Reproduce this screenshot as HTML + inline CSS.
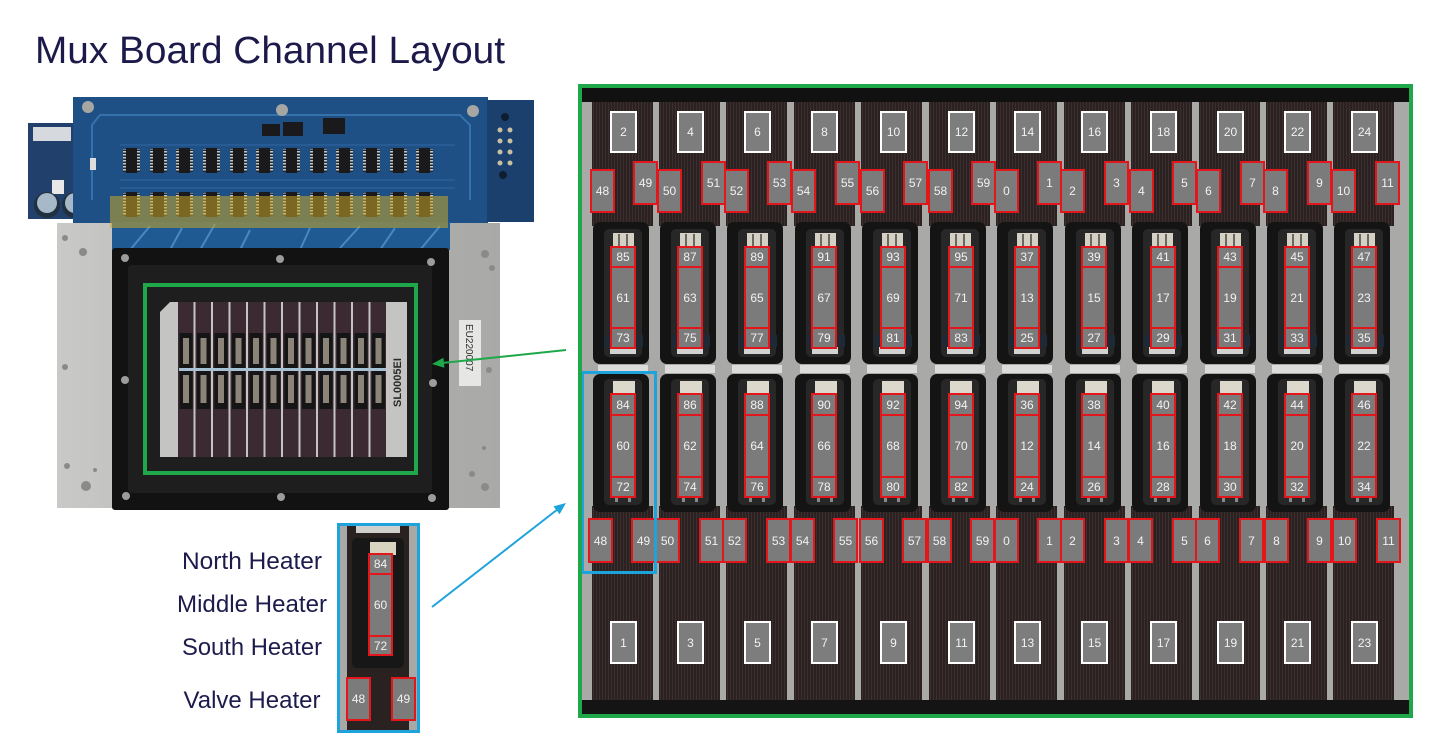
<!DOCTYPE html>
<html><head><meta charset="utf-8"><style>
html,body{margin:0;padding:0;background:#fff;}
svg{display:block;}
.n{font-family:"Liberation Sans",sans-serif;font-size:12px;fill:#f2f2f2;text-anchor:middle;}
.lb{font-family:"Liberation Sans",sans-serif;font-size:24px;fill:#1c1b4b;text-anchor:middle;}
.rb{fill:#7b7b7b;stroke:#e3161b;stroke-width:2;}
.wb{fill:#7d7d7d;stroke:#ffffff;stroke-width:2;}
</style></head><body>
<svg width="1429" height="738" viewBox="0 0 1429 738" xmlns="http://www.w3.org/2000/svg">
<defs>
  <pattern id="lanep" width="3" height="10" patternUnits="userSpaceOnUse">
    <rect width="3" height="10" fill="#2b2121"/><rect width="1" height="10" fill="#3b2f2f"/>
  </pattern>
  <pattern id="pins" width="3" height="3" patternUnits="userSpaceOnUse">
    <rect width="3" height="3" fill="#1e2a38"/><rect width="3" height="1.5" fill="#c8c8c0"/>
  </pattern>
  <linearGradient id="plate" x1="0" y1="0" x2="1" y2="0">
    <stop offset="0" stop-color="#c9c9c7"/><stop offset="0.5" stop-color="#b3b3b1"/><stop offset="1" stop-color="#a9a9a7"/>
  </linearGradient>
  <g id="ic">
    <rect x="3" y="0" width="11" height="25" fill="#1a1a1c"/>
    <rect x="0" y="1" width="3" height="23" fill="url(#pins)"/>
    <rect x="14" y="1" width="3" height="23" fill="url(#pins)"/>
  </g>
  <g id="colbg">
    <rect x="-19" y="102" width="61" height="124" fill="url(#lanep)"/>
    <rect x="-19" y="506" width="61" height="194" fill="url(#lanep)"/>
    <rect x="-18" y="222" width="56" height="142" rx="7" fill="#141414"/>
    <rect x="-7" y="229" width="38" height="128" rx="5" fill="#272727"/>
    <rect x="2" y="233" width="21" height="15" fill="#d4d0c4"/>
    <rect x="7" y="234" width="2" height="13" fill="#6a6660"/>
    <rect x="15" y="234" width="2" height="13" fill="#6a6660"/>
    <rect x="-1" y="346" width="26" height="8" fill="#d2d2d0"/>
    <rect x="-6" y="335" width="38" height="12" fill="#1d2a36"/>
    <rect x="-13" y="365" width="50" height="8" fill="#dcdcda"/>
    <rect x="-18" y="374" width="56" height="138" rx="7" fill="#141414"/>
    <rect x="-7" y="379" width="38" height="126" rx="5" fill="#272727"/>
    <rect x="2" y="381" width="22" height="14" fill="#dcd8cc"/>
    <rect x="4" y="498" width="3" height="4" fill="#888"/>
    <rect x="17" y="498" width="3" height="4" fill="#888"/>
  </g>
</defs>

<rect width="1429" height="738" fill="#ffffff"/>

<!-- Title -->
<text x="35" y="63" font-family="Liberation Sans, sans-serif" font-size="38" fill="#1b1a4a" textLength="470" lengthAdjust="spacingAndGlyphs">Mux Board Channel Layout</text>

<!-- ===== LEFT PHOTO ===== -->
<!-- small left board -->
<rect x="28" y="123" width="60" height="96" fill="#21406c"/>
<rect x="33" y="127" width="38" height="14" fill="#d6dade"/>
<rect x="52" y="180" width="12" height="14" fill="#e8e8e8"/>
<circle cx="47" cy="205" r="13" fill="#20303e"/>
<circle cx="47" cy="203" r="10" fill="#a7b8c8"/>
<circle cx="75" cy="205" r="13" fill="#20303e"/>
<circle cx="75" cy="203" r="10" fill="#a7b8c8"/>

<!-- silver plate -->
<rect x="57" y="223" width="443" height="285" fill="url(#plate)"/>
<!-- main pcb -->
<rect x="73" y="97" width="415" height="126" fill="#1e5086"/>
<rect x="487" y="100" width="47" height="122" fill="#1b406e"/>
<path d="M100 115 L460 115 L470 125 L470 200 M100 115 L92 125 L92 200" fill="none" stroke="#3572ac" stroke-width="2"/>
<path d="M120 145 L455 145 M120 180 L455 180 M120 188 L455 188" stroke="#2e66a0" stroke-width="1" fill="none"/>
<circle cx="88" cy="107" r="6" fill="#a6a6a2"/>
<circle cx="282" cy="110" r="6" fill="#a6a6a2"/>
<circle cx="473" cy="111" r="6" fill="#a6a6a2"/>
<circle cx="505" cy="117" r="4" fill="#0e1e30"/>
<circle cx="503" cy="175" r="4" fill="#0e1e30"/>
<circle cx="500" cy="130" r="2.5" fill="#c8c0a0"/><circle cx="510" cy="130" r="2.5" fill="#c8c0a0"/>
<circle cx="500" cy="141" r="2.5" fill="#c8c0a0"/><circle cx="510" cy="141" r="2.5" fill="#c8c0a0"/>
<circle cx="500" cy="152" r="2.5" fill="#c8c0a0"/><circle cx="510" cy="152" r="2.5" fill="#c8c0a0"/>
<circle cx="500" cy="163" r="2.5" fill="#c8c0a0"/><circle cx="510" cy="163" r="2.5" fill="#c8c0a0"/>
<rect x="90" y="158" width="6" height="12" fill="#ddd"/>
<rect x="262" y="124" width="18" height="12" fill="#1a1a1c"/>
<rect x="283" y="122" width="20" height="14" fill="#1a1a1c"/>
<rect x="323" y="118" width="22" height="16" fill="#1a1a1c"/>
<!-- ICs row 1 -->
<use href="#ic" x="123" y="148"/><use href="#ic" x="150" y="148"/><use href="#ic" x="176" y="148"/>
<use href="#ic" x="203" y="148"/><use href="#ic" x="230" y="148"/><use href="#ic" x="256" y="148"/>
<use href="#ic" x="283" y="148"/><use href="#ic" x="310" y="148"/><use href="#ic" x="336" y="148"/>
<use href="#ic" x="363" y="148"/><use href="#ic" x="390" y="148"/><use href="#ic" x="416" y="148"/>
<!-- ICs row 2 -->
<use href="#ic" x="123" y="192"/><use href="#ic" x="150" y="192"/><use href="#ic" x="176" y="192"/>
<use href="#ic" x="203" y="192"/><use href="#ic" x="230" y="192"/><use href="#ic" x="256" y="192"/>
<use href="#ic" x="283" y="192"/><use href="#ic" x="310" y="192"/><use href="#ic" x="336" y="192"/>
<use href="#ic" x="363" y="192"/><use href="#ic" x="390" y="192"/><use href="#ic" x="416" y="192"/>
<!-- lower pcb extension -->
<rect x="112" y="222" width="338" height="28" fill="#1f5a92"/>
<path d="M130 250 L150 226 M170 250 L182 228 M200 250 L215 224 M240 250 L250 230 M300 250 L310 228 M340 248 L360 226 M380 250 L395 228 M420 250 L440 226" stroke="#4a88c0" stroke-width="2" fill="none"/>
<!-- gold tape -->
<rect x="110" y="196" width="338" height="32" fill="#c8a828" opacity="0.55"/>

<!-- black frame -->
<rect x="112" y="248" width="337" height="262" rx="3" fill="#121212"/>
<rect x="128" y="265" width="304" height="228" rx="4" fill="#1e1e1e"/>
<!-- screws -->
<g fill="#9c9c9a">
<circle cx="125" cy="258" r="4"/><circle cx="280" cy="259" r="4"/><circle cx="431" cy="262" r="4"/>
<circle cx="125" cy="380" r="4"/><circle cx="433" cy="383" r="4"/>
<circle cx="126" cy="496" r="4"/><circle cx="281" cy="497" r="4"/><circle cx="432" cy="498" r="4"/>
</g>
<g fill="#8a8a88">
<circle cx="65" cy="238" r="3"/><circle cx="83" cy="252" r="4"/><circle cx="65" cy="367" r="3"/>
<circle cx="67" cy="466" r="3"/><circle cx="86" cy="486" r="5"/><circle cx="95" cy="470" r="2"/>
<circle cx="485" cy="254" r="4"/><circle cx="492" cy="268" r="3"/><circle cx="489" cy="370" r="3"/>
<circle cx="484" cy="448" r="2"/><circle cx="472" cy="474" r="3"/><circle cx="485" cy="487" r="4"/>
</g>
<!-- EU label -->
<rect x="459" y="320" width="22" height="66" fill="#e6e6e4"/>
<text x="0" y="0" transform="translate(466,324) rotate(90)" font-family="Liberation Sans, sans-serif" font-size="10" fill="#333">EU220007</text>

<!-- chip area -->
<path d="M170 302 L407 302 L407 457 L160 457 L160 312 Z" fill="#c4c4c2"/>
<g fill="#3b2a31">
<rect x="178" y="302" width="15.5" height="155"/><rect x="195.5" y="302" width="15.5" height="155"/>
<rect x="213" y="302" width="15.5" height="155"/><rect x="230.5" y="302" width="15.5" height="155"/>
<rect x="248" y="302" width="15.5" height="155"/><rect x="265.5" y="302" width="15.5" height="155"/>
<rect x="283" y="302" width="15.5" height="155"/><rect x="300.5" y="302" width="15.5" height="155"/>
<rect x="318" y="302" width="15.5" height="155"/><rect x="335.5" y="302" width="15.5" height="155"/>
<rect x="353" y="302" width="15.5" height="155"/><rect x="370.5" y="302" width="15.5" height="155"/>
</g>
<g fill="#151515">
<rect x="179.5" y="333" width="13" height="76"/><rect x="197" y="333" width="13" height="76"/>
<rect x="214.5" y="333" width="13" height="76"/><rect x="232" y="333" width="13" height="76"/>
<rect x="249.5" y="333" width="13" height="76"/><rect x="267" y="333" width="13" height="76"/>
<rect x="284.5" y="333" width="13" height="76"/><rect x="302" y="333" width="13" height="76"/>
<rect x="319.5" y="333" width="13" height="76"/><rect x="337" y="333" width="13" height="76"/>
<rect x="354.5" y="333" width="13" height="76"/><rect x="372" y="333" width="13" height="76"/>
</g>
<g fill="#8c8478">
<rect x="183" y="338" width="6" height="26"/><rect x="200.5" y="338" width="6" height="26"/>
<rect x="218" y="338" width="6" height="26"/><rect x="235.5" y="338" width="6" height="26"/>
<rect x="253" y="338" width="6" height="26"/><rect x="270.5" y="338" width="6" height="26"/>
<rect x="288" y="338" width="6" height="26"/><rect x="305.5" y="338" width="6" height="26"/>
<rect x="323" y="338" width="6" height="26"/><rect x="340.5" y="338" width="6" height="26"/>
<rect x="358" y="338" width="6" height="26"/><rect x="375.5" y="338" width="6" height="26"/>
<rect x="183" y="375" width="6" height="28"/><rect x="200.5" y="375" width="6" height="28"/>
<rect x="218" y="375" width="6" height="28"/><rect x="235.5" y="375" width="6" height="28"/>
<rect x="253" y="375" width="6" height="28"/><rect x="270.5" y="375" width="6" height="28"/>
<rect x="288" y="375" width="6" height="28"/><rect x="305.5" y="375" width="6" height="28"/>
<rect x="323" y="375" width="6" height="28"/><rect x="340.5" y="375" width="6" height="28"/>
<rect x="358" y="375" width="6" height="28"/><rect x="375.5" y="375" width="6" height="28"/>
</g>
<rect x="179" y="368" width="207" height="3" fill="#a8c0d4"/>
<text x="0" y="0" transform="translate(401,407) rotate(-90)" font-family="Liberation Sans, sans-serif" font-size="11" font-weight="bold" fill="#2a2a2a">SL0005EI</text>
<!-- left green box -->
<rect x="145" y="285" width="271" height="188" fill="none" stroke="#1fa84a" stroke-width="4"/>

<!-- arrows -->
<line x1="566" y1="350" x2="442" y2="363" stroke="#1fa84a" stroke-width="2"/>
<polygon points="432,364 444.4,367.7 443.4,357.8" fill="#1fa84a"/>
<line x1="432" y1="607" x2="558" y2="509" stroke="#1ea3dc" stroke-width="2"/>
<polygon points="566,503 559.6,514.3 553.5,506.4" fill="#1ea3dc"/>

<!-- ===== INSET ===== -->
<rect x="338" y="524" width="81" height="208" fill="#a8a8a6"/>
<rect x="347" y="524" width="62" height="208" fill="#2a2121"/>
<rect x="356" y="526" width="44" height="7" fill="#cfcfcd"/>
<rect x="352" y="538" width="52" height="130" rx="5" fill="#171717"/>
<rect x="370" y="542" width="26" height="13" fill="#d8d4c0"/>
<rect x="369" y="554" width="23" height="20" class="rb"/>
<rect x="369" y="574" width="23" height="62" class="rb"/>
<rect x="369" y="636" width="23" height="19" class="rb"/>
<text x="380.5" y="568" class="n">84</text>
<text x="380.5" y="609" class="n">60</text>
<text x="380.5" y="650" class="n">72</text>
<rect x="347" y="678" width="23" height="42" class="rb"/>
<rect x="392" y="678" width="23" height="42" class="rb"/>
<text x="358.5" y="703" class="n">48</text>
<text x="403.5" y="703" class="n">49</text>
<rect x="338.5" y="524.5" width="80" height="207" fill="none" stroke="#1ea3dc" stroke-width="3"/>

<text x="252" y="569" class="lb" textLength="140" lengthAdjust="spacingAndGlyphs">North Heater</text>
<text x="252" y="612" class="lb" textLength="150" lengthAdjust="spacingAndGlyphs">Middle Heater</text>
<text x="252" y="655" class="lb" textLength="140" lengthAdjust="spacingAndGlyphs">South Heater</text>
<text x="252" y="708" class="lb" textLength="137" lengthAdjust="spacingAndGlyphs">Valve Heater</text>

<!-- ===== RIGHT PANEL ===== -->
<rect x="582" y="88" width="827" height="626" fill="#a9a9a7"/>
<rect x="582" y="88" width="827" height="14" fill="#111"/>
<rect x="582" y="700" width="827" height="14" fill="#141414"/>

<use href="#colbg" x="611"/><use href="#colbg" x="678"/><use href="#colbg" x="745"/>
<use href="#colbg" x="813"/><use href="#colbg" x="880"/><use href="#colbg" x="948"/>
<use href="#colbg" x="1015"/><use href="#colbg" x="1083"/><use href="#colbg" x="1150"/>
<use href="#colbg" x="1218"/><use href="#colbg" x="1285"/><use href="#colbg" x="1352"/>

<!-- column 0 -->
<g transform="translate(611,0)">
<rect x="0" y="112" width="25" height="40" class="wb"/><text x="12.5" y="136" class="n">2</text>
<rect x="-20" y="170" width="23" height="42" class="rb"/><text x="-8.5" y="195" class="n">48</text>
<rect x="23" y="162" width="23" height="42" class="rb"/><text x="34.5" y="187" class="n">49</text>
<rect x="0" y="247" width="24" height="20" class="rb"/><text x="12" y="261" class="n">85</text>
<rect x="0" y="267" width="24" height="61" class="rb"/><text x="12" y="302" class="n">61</text>
<rect x="0" y="328" width="24" height="20" class="rb"/><text x="12" y="342" class="n">73</text>
<rect x="0" y="394" width="24" height="21" class="rb"/><text x="12" y="409" class="n">84</text>
<rect x="0" y="415" width="24" height="62" class="rb"/><text x="12" y="450" class="n">60</text>
<rect x="0" y="477" width="24" height="20" class="rb"/><text x="12" y="491" class="n">72</text>
<rect x="-22" y="519" width="23" height="43" class="rb"/><text x="-10.5" y="545" class="n">48</text>
<rect x="21" y="519" width="23" height="43" class="rb"/><text x="32.5" y="545" class="n">49</text>
<rect x="0" y="622" width="25" height="41" class="wb"/><text x="12.5" y="647" class="n">1</text>
</g>
<!-- column 1 -->
<g transform="translate(678,0)">
<rect x="0" y="112" width="25" height="40" class="wb"/><text x="12.5" y="136" class="n">4</text>
<rect x="-20" y="170" width="23" height="42" class="rb"/><text x="-8.5" y="195" class="n">50</text>
<rect x="24" y="162" width="23" height="42" class="rb"/><text x="35.5" y="187" class="n">51</text>
<rect x="0" y="247" width="24" height="20" class="rb"/><text x="12" y="261" class="n">87</text>
<rect x="0" y="267" width="24" height="61" class="rb"/><text x="12" y="302" class="n">63</text>
<rect x="0" y="328" width="24" height="20" class="rb"/><text x="12" y="342" class="n">75</text>
<rect x="0" y="394" width="24" height="21" class="rb"/><text x="12" y="409" class="n">86</text>
<rect x="0" y="415" width="24" height="62" class="rb"/><text x="12" y="450" class="n">62</text>
<rect x="0" y="477" width="24" height="20" class="rb"/><text x="12" y="491" class="n">74</text>
<rect x="-22" y="519" width="23" height="43" class="rb"/><text x="-10.5" y="545" class="n">50</text>
<rect x="22" y="519" width="23" height="43" class="rb"/><text x="33.5" y="545" class="n">51</text>
<rect x="0" y="622" width="25" height="41" class="wb"/><text x="12.5" y="647" class="n">3</text>
</g>
<!-- column 2 -->
<g transform="translate(745,0)">
<rect x="0" y="112" width="25" height="40" class="wb"/><text x="12.5" y="136" class="n">6</text>
<rect x="-20" y="170" width="23" height="42" class="rb"/><text x="-8.5" y="195" class="n">52</text>
<rect x="23" y="162" width="23" height="42" class="rb"/><text x="34.5" y="187" class="n">53</text>
<rect x="0" y="247" width="24" height="20" class="rb"/><text x="12" y="261" class="n">89</text>
<rect x="0" y="267" width="24" height="61" class="rb"/><text x="12" y="302" class="n">65</text>
<rect x="0" y="328" width="24" height="20" class="rb"/><text x="12" y="342" class="n">77</text>
<rect x="0" y="394" width="24" height="21" class="rb"/><text x="12" y="409" class="n">88</text>
<rect x="0" y="415" width="24" height="62" class="rb"/><text x="12" y="450" class="n">64</text>
<rect x="0" y="477" width="24" height="20" class="rb"/><text x="12" y="491" class="n">76</text>
<rect x="-22" y="519" width="23" height="43" class="rb"/><text x="-10.5" y="545" class="n">52</text>
<rect x="22" y="519" width="23" height="43" class="rb"/><text x="33.5" y="545" class="n">53</text>
<rect x="0" y="622" width="25" height="41" class="wb"/><text x="12.5" y="647" class="n">5</text>
</g>
<!-- column 3 -->
<g transform="translate(812,0)">
<rect x="0" y="112" width="25" height="40" class="wb"/><text x="12.5" y="136" class="n">8</text>
<rect x="-20" y="170" width="23" height="42" class="rb"/><text x="-8.5" y="195" class="n">54</text>
<rect x="24" y="162" width="23" height="42" class="rb"/><text x="35.5" y="187" class="n">55</text>
<rect x="0" y="247" width="24" height="20" class="rb"/><text x="12" y="261" class="n">91</text>
<rect x="0" y="267" width="24" height="61" class="rb"/><text x="12" y="302" class="n">67</text>
<rect x="0" y="328" width="24" height="20" class="rb"/><text x="12" y="342" class="n">79</text>
<rect x="0" y="394" width="24" height="21" class="rb"/><text x="12" y="409" class="n">90</text>
<rect x="0" y="415" width="24" height="62" class="rb"/><text x="12" y="450" class="n">66</text>
<rect x="0" y="477" width="24" height="20" class="rb"/><text x="12" y="491" class="n">78</text>
<rect x="-21" y="519" width="23" height="43" class="rb"/><text x="-9.5" y="545" class="n">54</text>
<rect x="22" y="519" width="23" height="43" class="rb"/><text x="33.5" y="545" class="n">55</text>
<rect x="0" y="622" width="25" height="41" class="wb"/><text x="12.5" y="647" class="n">7</text>
</g>
<!-- column 4 -->
<g transform="translate(881,0)">
<rect x="0" y="112" width="25" height="40" class="wb"/><text x="12.5" y="136" class="n">10</text>
<rect x="-20" y="170" width="23" height="42" class="rb"/><text x="-8.5" y="195" class="n">56</text>
<rect x="23" y="162" width="23" height="42" class="rb"/><text x="34.5" y="187" class="n">57</text>
<rect x="0" y="247" width="24" height="20" class="rb"/><text x="12" y="261" class="n">93</text>
<rect x="0" y="267" width="24" height="61" class="rb"/><text x="12" y="302" class="n">69</text>
<rect x="0" y="328" width="24" height="20" class="rb"/><text x="12" y="342" class="n">81</text>
<rect x="0" y="394" width="24" height="21" class="rb"/><text x="12" y="409" class="n">92</text>
<rect x="0" y="415" width="24" height="62" class="rb"/><text x="12" y="450" class="n">68</text>
<rect x="0" y="477" width="24" height="20" class="rb"/><text x="12" y="491" class="n">80</text>
<rect x="-21" y="519" width="23" height="43" class="rb"/><text x="-9.5" y="545" class="n">56</text>
<rect x="22" y="519" width="23" height="43" class="rb"/><text x="33.5" y="545" class="n">57</text>
<rect x="0" y="622" width="25" height="41" class="wb"/><text x="12.5" y="647" class="n">9</text>
</g>
<!-- column 5 -->
<g transform="translate(949,0)">
<rect x="0" y="112" width="25" height="40" class="wb"/><text x="12.5" y="136" class="n">12</text>
<rect x="-20" y="170" width="23" height="42" class="rb"/><text x="-8.5" y="195" class="n">58</text>
<rect x="23" y="162" width="23" height="42" class="rb"/><text x="34.5" y="187" class="n">59</text>
<rect x="0" y="247" width="24" height="20" class="rb"/><text x="12" y="261" class="n">95</text>
<rect x="0" y="267" width="24" height="61" class="rb"/><text x="12" y="302" class="n">71</text>
<rect x="0" y="328" width="24" height="20" class="rb"/><text x="12" y="342" class="n">83</text>
<rect x="0" y="394" width="24" height="21" class="rb"/><text x="12" y="409" class="n">94</text>
<rect x="0" y="415" width="24" height="62" class="rb"/><text x="12" y="450" class="n">70</text>
<rect x="0" y="477" width="24" height="20" class="rb"/><text x="12" y="491" class="n">82</text>
<rect x="-21" y="519" width="23" height="43" class="rb"/><text x="-9.5" y="545" class="n">58</text>
<rect x="22" y="519" width="23" height="43" class="rb"/><text x="33.5" y="545" class="n">59</text>
<rect x="0" y="622" width="25" height="41" class="wb"/><text x="12.5" y="647" class="n">11</text>
</g>
<!-- column 6 -->
<g transform="translate(1015,0)">
<rect x="0" y="112" width="25" height="40" class="wb"/><text x="12.5" y="136" class="n">14</text>
<rect x="-20" y="170" width="23" height="42" class="rb"/><text x="-8.5" y="195" class="n">0</text>
<rect x="23" y="162" width="23" height="42" class="rb"/><text x="34.5" y="187" class="n">1</text>
<rect x="0" y="247" width="24" height="20" class="rb"/><text x="12" y="261" class="n">37</text>
<rect x="0" y="267" width="24" height="61" class="rb"/><text x="12" y="302" class="n">13</text>
<rect x="0" y="328" width="24" height="20" class="rb"/><text x="12" y="342" class="n">25</text>
<rect x="0" y="394" width="24" height="21" class="rb"/><text x="12" y="409" class="n">36</text>
<rect x="0" y="415" width="24" height="62" class="rb"/><text x="12" y="450" class="n">12</text>
<rect x="0" y="477" width="24" height="20" class="rb"/><text x="12" y="491" class="n">24</text>
<rect x="-20" y="519" width="23" height="43" class="rb"/><text x="-8.5" y="545" class="n">0</text>
<rect x="23" y="519" width="23" height="43" class="rb"/><text x="34.5" y="545" class="n">1</text>
<rect x="0" y="622" width="25" height="41" class="wb"/><text x="12.5" y="647" class="n">13</text>
</g>
<!-- column 7 -->
<g transform="translate(1082,0)">
<rect x="0" y="112" width="25" height="40" class="wb"/><text x="12.5" y="136" class="n">16</text>
<rect x="-21" y="170" width="23" height="42" class="rb"/><text x="-9.5" y="195" class="n">2</text>
<rect x="23" y="162" width="23" height="42" class="rb"/><text x="34.5" y="187" class="n">3</text>
<rect x="0" y="247" width="24" height="20" class="rb"/><text x="12" y="261" class="n">39</text>
<rect x="0" y="267" width="24" height="61" class="rb"/><text x="12" y="302" class="n">15</text>
<rect x="0" y="328" width="24" height="20" class="rb"/><text x="12" y="342" class="n">27</text>
<rect x="0" y="394" width="24" height="21" class="rb"/><text x="12" y="409" class="n">38</text>
<rect x="0" y="415" width="24" height="62" class="rb"/><text x="12" y="450" class="n">14</text>
<rect x="0" y="477" width="24" height="20" class="rb"/><text x="12" y="491" class="n">26</text>
<rect x="-21" y="519" width="23" height="43" class="rb"/><text x="-9.5" y="545" class="n">2</text>
<rect x="23" y="519" width="23" height="43" class="rb"/><text x="34.5" y="545" class="n">3</text>
<rect x="0" y="622" width="25" height="41" class="wb"/><text x="12.5" y="647" class="n">15</text>
</g>
<!-- column 8 -->
<g transform="translate(1151,0)">
<rect x="0" y="112" width="25" height="40" class="wb"/><text x="12.5" y="136" class="n">18</text>
<rect x="-21" y="170" width="23" height="42" class="rb"/><text x="-9.5" y="195" class="n">4</text>
<rect x="22" y="162" width="23" height="42" class="rb"/><text x="33.5" y="187" class="n">5</text>
<rect x="0" y="247" width="24" height="20" class="rb"/><text x="12" y="261" class="n">41</text>
<rect x="0" y="267" width="24" height="61" class="rb"/><text x="12" y="302" class="n">17</text>
<rect x="0" y="328" width="24" height="20" class="rb"/><text x="12" y="342" class="n">29</text>
<rect x="0" y="394" width="24" height="21" class="rb"/><text x="12" y="409" class="n">40</text>
<rect x="0" y="415" width="24" height="62" class="rb"/><text x="12" y="450" class="n">16</text>
<rect x="0" y="477" width="24" height="20" class="rb"/><text x="12" y="491" class="n">28</text>
<rect x="-22" y="519" width="23" height="43" class="rb"/><text x="-10.5" y="545" class="n">4</text>
<rect x="22" y="519" width="23" height="43" class="rb"/><text x="33.5" y="545" class="n">5</text>
<rect x="0" y="622" width="25" height="41" class="wb"/><text x="12.5" y="647" class="n">17</text>
</g>
<!-- column 9 -->
<g transform="translate(1218,0)">
<rect x="0" y="112" width="25" height="40" class="wb"/><text x="12.5" y="136" class="n">20</text>
<rect x="-21" y="170" width="23" height="42" class="rb"/><text x="-9.5" y="195" class="n">6</text>
<rect x="23" y="162" width="23" height="42" class="rb"/><text x="34.5" y="187" class="n">7</text>
<rect x="0" y="247" width="24" height="20" class="rb"/><text x="12" y="261" class="n">43</text>
<rect x="0" y="267" width="24" height="61" class="rb"/><text x="12" y="302" class="n">19</text>
<rect x="0" y="328" width="24" height="20" class="rb"/><text x="12" y="342" class="n">31</text>
<rect x="0" y="394" width="24" height="21" class="rb"/><text x="12" y="409" class="n">42</text>
<rect x="0" y="415" width="24" height="62" class="rb"/><text x="12" y="450" class="n">18</text>
<rect x="0" y="477" width="24" height="20" class="rb"/><text x="12" y="491" class="n">30</text>
<rect x="-22" y="519" width="23" height="43" class="rb"/><text x="-10.5" y="545" class="n">6</text>
<rect x="22" y="519" width="23" height="43" class="rb"/><text x="33.5" y="545" class="n">7</text>
<rect x="0" y="622" width="25" height="41" class="wb"/><text x="12.5" y="647" class="n">19</text>
</g>
<!-- column 10 -->
<g transform="translate(1285,0)">
<rect x="0" y="112" width="25" height="40" class="wb"/><text x="12.5" y="136" class="n">22</text>
<rect x="-21" y="170" width="23" height="42" class="rb"/><text x="-9.5" y="195" class="n">8</text>
<rect x="23" y="162" width="23" height="42" class="rb"/><text x="34.5" y="187" class="n">9</text>
<rect x="0" y="247" width="24" height="20" class="rb"/><text x="12" y="261" class="n">45</text>
<rect x="0" y="267" width="24" height="61" class="rb"/><text x="12" y="302" class="n">21</text>
<rect x="0" y="328" width="24" height="20" class="rb"/><text x="12" y="342" class="n">33</text>
<rect x="0" y="394" width="24" height="21" class="rb"/><text x="12" y="409" class="n">44</text>
<rect x="0" y="415" width="24" height="62" class="rb"/><text x="12" y="450" class="n">20</text>
<rect x="0" y="477" width="24" height="20" class="rb"/><text x="12" y="491" class="n">32</text>
<rect x="-20" y="519" width="23" height="43" class="rb"/><text x="-8.5" y="545" class="n">8</text>
<rect x="23" y="519" width="23" height="43" class="rb"/><text x="34.5" y="545" class="n">9</text>
<rect x="0" y="622" width="25" height="41" class="wb"/><text x="12.5" y="647" class="n">21</text>
</g>
<!-- column 11 -->
<g transform="translate(1352,0)">
<rect x="0" y="112" width="25" height="40" class="wb"/><text x="12.5" y="136" class="n">24</text>
<rect x="-20" y="170" width="23" height="42" class="rb"/><text x="-8.5" y="195" class="n">10</text>
<rect x="24" y="162" width="23" height="42" class="rb"/><text x="35.5" y="187" class="n">11</text>
<rect x="0" y="247" width="24" height="20" class="rb"/><text x="12" y="261" class="n">47</text>
<rect x="0" y="267" width="24" height="61" class="rb"/><text x="12" y="302" class="n">23</text>
<rect x="0" y="328" width="24" height="20" class="rb"/><text x="12" y="342" class="n">35</text>
<rect x="0" y="394" width="24" height="21" class="rb"/><text x="12" y="409" class="n">46</text>
<rect x="0" y="415" width="24" height="62" class="rb"/><text x="12" y="450" class="n">22</text>
<rect x="0" y="477" width="24" height="20" class="rb"/><text x="12" y="491" class="n">34</text>
<rect x="-19" y="519" width="23" height="43" class="rb"/><text x="-7.5" y="545" class="n">10</text>
<rect x="25" y="519" width="23" height="43" class="rb"/><text x="36.5" y="545" class="n">11</text>
<rect x="0" y="622" width="25" height="41" class="wb"/><text x="12.5" y="647" class="n">23</text>
</g>

<!-- blue highlight box -->
<rect x="582.5" y="372.5" width="73" height="200" fill="none" stroke="#1ea3dc" stroke-width="3"/>
<!-- big green frame -->
<rect x="580" y="86" width="831" height="630" fill="none" stroke="#1fa84a" stroke-width="4"/>
</svg>
</body></html>
